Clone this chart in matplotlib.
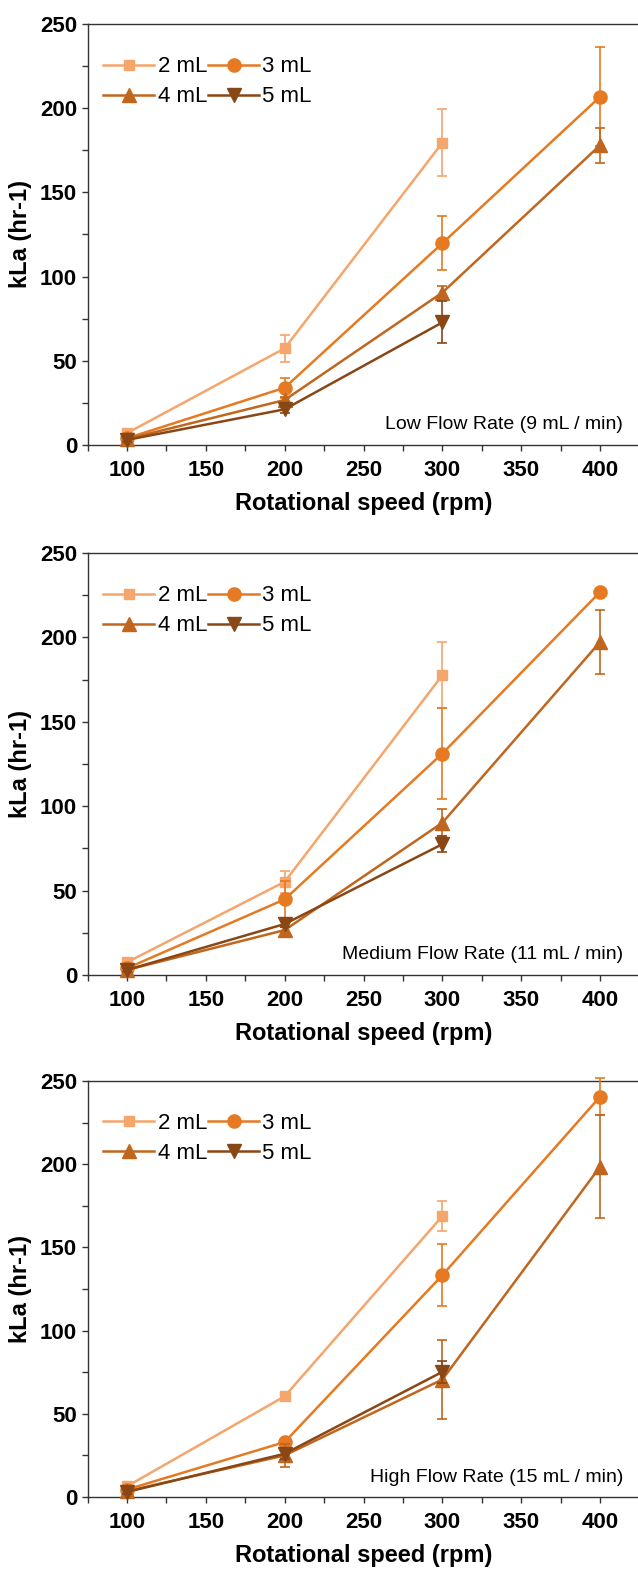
import numpy as np
import matplotlib.pyplot as plt
from matplotlib.ticker import MultipleLocator

plt.rcParams['font.family'] = ['Liberation Sans', 'DejaVu Sans']

# Velocidad de rotación (rpm)
rpm = [100, 200, 300, 400]

volumenes = ['2 mL', '3 mL', '4 mL', '5 mL']
colores = ['#F4A66C', '#E57A22', '#C0661E', '#8A4716']
marcadores = ['s', 'o', '^', 'v']
tam_marcador = [7, 9.5, 9.5, 9.5]

titulos = ['Low Flow Rate (9 mL / min)',
           'Medium Flow Rate (11 mL / min)',
           'High Flow Rate (15 mL / min)']

# kLa (hr-1) por volumen, flujo bajo
bajo_2 = [7, 57.4, 179.5]
bajo_3 = [4, 34, 119.8, 206.8]
bajo_4 = [3.5, 26.7, 90.5, 178]
bajo_5 = [3, 21.2, 72.8]
bajo_err_2 = [1.5, 8, 20]
bajo_err_3 = [1, 6, 16, 29.5]
bajo_err_4 = [1, 2, 4, 10.5]
bajo_err_5 = [1, 2, 12.5]

# flujo medio
medio_2 = [7.5, 55.2, 177.6]
medio_3 = [4, 44.8, 131.2, 226.9]
medio_4 = [3, 26.6, 90.2, 197.3]
medio_5 = [3, 30.2, 77.5]
medio_err_2 = [1.5, 6.5, 19.5]
medio_err_3 = [1, 11, 27, 1]
medio_err_4 = [1, 2, 8, 18.8]
medio_err_5 = [1, 2, 4.7]

# flujo alto
alto_2 = [6.4, 60.5, 168.8]
alto_3 = [4.5, 33, 133.3, 240.6]
alto_4 = [3.5, 25, 70.6, 198.5]
alto_5 = [3, 26, 75.2]
alto_err_2 = [1.5, 1, 9]
alto_err_3 = [1, 2, 18.5, 11]
alto_err_4 = [1, 7, 24, 31]
alto_err_5 = [1, 3, 6.6]

paneles = [
    ([bajo_2, bajo_3, bajo_4, bajo_5], [bajo_err_2, bajo_err_3, bajo_err_4, bajo_err_5]),
    ([medio_2, medio_3, medio_4, medio_5], [medio_err_2, medio_err_3, medio_err_4, medio_err_5]),
    ([alto_2, alto_3, alto_4, alto_5], [alto_err_2, alto_err_3, alto_err_4, alto_err_5]),
]

fig = plt.figure(figsize=(6.38, 15.71), dpi=100)
W, H = 638, 1571
# (arriba, abajo) en píxeles de cada panel
limites = [(24, 445), (553, 975), (1081, 1497)]

for (arriba, abajo), (datos, errores), titulo in zip(limites, paneles, titulos):
    ax = fig.add_axes([87.5 / W, 1 - abajo / H, 552 / W, (abajo - arriba) / H])
    lineas = []
    for i in range(4):
        y = datos[i]
        cont = ax.errorbar(rpm[:len(y)], y, yerr=errores[i], color=colores[i],
                           marker=marcadores[i], markersize=tam_marcador[i], linewidth=1.8,
                           elinewidth=1.2, capsize=3.5, capthick=1.2,
                           clip_on=False, zorder=3 + i)
        lineas.append(cont[0])
    ax.set_xlim(75, 425)
    ax.set_ylim(0, 250)
    ax.xaxis.set_major_locator(MultipleLocator(50))
    ax.xaxis.set_minor_locator(MultipleLocator(25))
    ax.yaxis.set_major_locator(MultipleLocator(50))
    ax.yaxis.set_minor_locator(MultipleLocator(25))
    ax.set_xticks([100, 150, 200, 250, 300, 350, 400])
    ax.tick_params(which='both', direction='out', length=4, width=1, color='#333333')
    ax.tick_params(axis='x', pad=7)
    ax.tick_params(labelsize=16)
    for lab in ax.get_xticklabels() + ax.get_yticklabels():
        lab.set_fontweight('bold')
    ax.spines['right'].set_visible(False)
    for s in ['left', 'top', 'bottom']:
        ax.spines[s].set_color('#333333')
        ax.spines[s].set_linewidth(1)
    ax.set_xlabel('Rotational speed (rpm)', fontsize=17, fontweight='bold', labelpad=8)
    ax.set_ylabel('kLa (hr-1)', fontsize=17, fontweight='bold', labelpad=6)
    ax.text(414.5, 12, titulo, fontsize=14, ha='right', va='center')
    # orden por filas: 2 mL, 3 mL / 4 mL, 5 mL
    orden = [0, 2, 1, 3]
    ax.legend([lineas[k] for k in orden], [volumenes[k] for k in orden],
              loc='upper left', ncol=2, frameon=False, fontsize=16, handlelength=2.3,
              handletextpad=0.15, columnspacing=0.05, labelspacing=0.4,
              bbox_to_anchor=(0.0, 0.96), borderaxespad=0.3)

fig.savefig('out.png', dpi=100)
